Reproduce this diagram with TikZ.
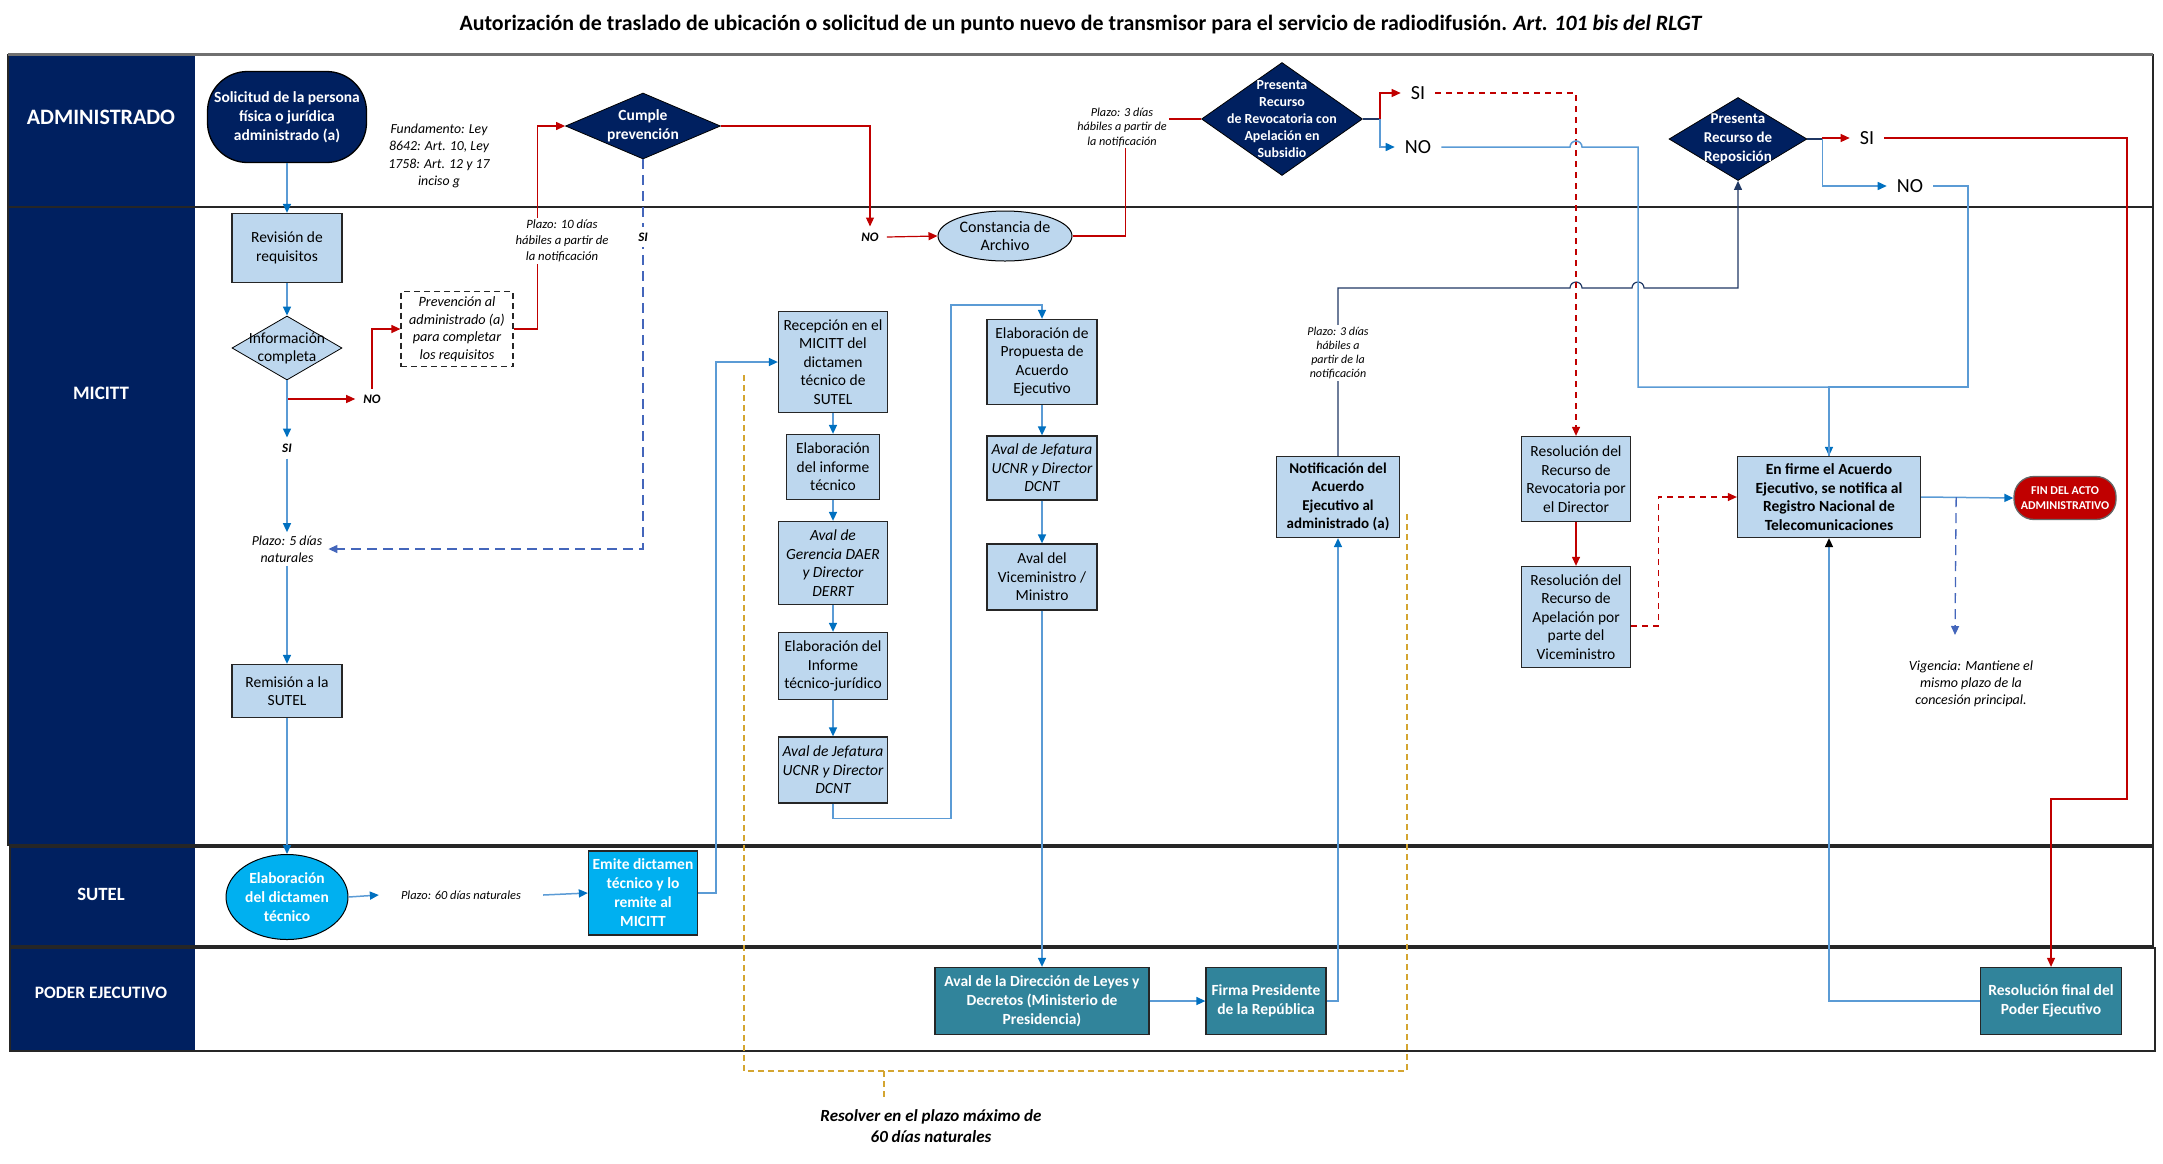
\documentclass[tikz,border=0pt]{standalone}
\usepackage{fontspec}
\setmainfont{Carlito}
\usetikzlibrary{shapes.geometric,arrows.meta,positioning}
\definecolor{navy}{HTML}{002060}
\definecolor{boxblue}{HTML}{BDD7EE}
\definecolor{cyanbox}{HTML}{00B0F0}
\definecolor{tealbox}{HTML}{31849B}
\definecolor{finred}{HTML}{C00000}
\definecolor{flowblue}{HTML}{5B9BD5}
\definecolor{tipblue}{HTML}{0070C0}
\definecolor{flowred}{HTML}{C00000}
\definecolor{navyln}{HTML}{203864}
\definecolor{dashblue}{HTML}{4466BB}
\definecolor{plazogold}{HTML}{D4A531}
\definecolor{framegray}{HTML}{707070}
\newcommand{\fsz}[2]{\fontsize{#1}{#2}\selectfont}

\begin{document}
\begin{tikzpicture}[x=1pt,y=-1pt,
    box/.style={draw=black!85, fill=boxblue, line width=1.3pt, align=center, inner sep=1pt, font=\fsz{15.5}{18.5}},
    darkbox/.style={box, text=white, font=\bfseries\fsz{15.5}{19}},
    dec/.style={diamond, draw=black, fill=navy, inner sep=0pt, line width=0.8pt},
    dectxt/.style={align=center, text=white, font=\bfseries\fsz{15.5}{19}},
    lanelbl/.style={text=white, font=\bfseries\fsz{19}{22}},
    lanebd/.style={black!85, line width=1.5pt},
    note/.style={align=center, fill=white, inner sep=2pt, font=\itshape\fsz{12.7}{16}},
    yesno/.style={inner xsep=10pt, inner ysep=6pt, font=\fsz{20}{22}},
    yesnoit/.style={inner xsep=8pt, inner ysep=6pt, font=\bfseries\itshape\fsz{13}{15}},
    flow/.style={flowblue, line width=1.5pt, -{Triangle[length=9pt,width=8pt,color=tipblue]}},
    flowblack/.style={flowblue, line width=1.5pt, -{Triangle[length=9pt,width=8pt,color=black]}},
    blueline/.style={flowblue, line width=1.5pt},
    redline/.style={flowred, line width=1.2pt},
    redflow/.style={redline, -{Triangle[length=9pt,width=8pt]}},
    reddash/.style={redflow, dash pattern=on 6pt off 5pt},
    navyline/.style={navyln, line width=1.2pt},
    navyflow/.style={navyline, -{Triangle[length=9pt,width=8pt]}},
    dashflow/.style={dashblue, line width=1.3pt, dash pattern=on 10pt off 6pt, -{Triangle[length=9pt,width=8pt]}},
    goldln/.style={plazogold, line width=1.2pt, dash pattern=on 6pt off 4pt}]
    \useasboundingbox (0,0) rectangle (2163,1163);

    % Title
    \node[font=\bfseries\fsz{21.9}{26}] (title) at (1081,25) {Autorización de traslado de ubicación o solicitud de un punto nuevo de transmisor para el servicio de radiodifusión. \textit{Art. 101 bis del RLGT}};

    % Lanes
    \fill[navy] (8,55) rectangle (195,845);
    \draw[lanebd] (8,55) rectangle (2153,845);
    \draw[lanebd] (8,207) -- (2153,207);
    \draw[framegray, line width=3pt] (8,54) -- (2153,54);
    \fill[navy] (10,847) rectangle (195,946);
    \draw[lanebd] (10,847) rectangle (2153,946);
    \fill[navy] (10,948) rectangle (195,1051);
    \draw[lanebd] (10,948) rectangle (2155,1051);
    \node[lanelbl, font=\bfseries\fsz{22}{24}] (lanadm) at (101,117) {ADMINISTRADO};
    \node[lanelbl] (lanmic) at (101,393) {MICITT};
    \node[lanelbl, font=\bfseries\fsz{18.7}{22}] (lansut) at (101,894) {SUTEL};
    \node[lanelbl, font=\bfseries\fsz{17.4}{20}] (lanpe) at (101,993) {PODER EJECUTIVO};

    % Administrado
    \node[box, fill=navy, draw=black, rounded corners=40pt, text=white, font=\bfseries\fsz{15.5}{19}, minimum width=159pt, minimum height=91pt] (solic) at (287,117) {Solicitud de la persona\\física o jurídica\\administrado (a)};
    \node[align=center, font=\itshape\fsz{13.8}{17.5}] (fund) at (439,156) {Fundamento: Ley\\8642: Art. 10, Ley\\1758: Art. 12 y 17\\inciso g};
    \node[dec, minimum width=155pt, minimum height=66pt, label={[dectxt]center:Cumple\\prevención}] (cumple) at (643,126) {};
    \node[dec, minimum width=161pt, minimum height=113pt, label={[dectxt, font=\bfseries\fsz{13.9}{16.8}]center:Presenta\\Recurso\\de Revocatoria con\\Apelación en\\Subsidio}] (revoc) at (1282,119) {};
    \node[yesno] (revSI) at (1418,93) {SI};
    \node[yesno] (revNO) at (1418,147) {NO};
    \node[dec, minimum width=138pt, minimum height=83pt, label={[dectxt, font=\bfseries\fsz{15}{19}]center:Presenta\\Recurso de\\Reposición}] (repos) at (1738,139) {};
    \node[yesno] (repSI) at (1867,138) {SI};
    \node[yesno] (repNO) at (1910,186) {NO};

    % MICITT
    \node[box, minimum width=110pt, minimum height=69pt] (revis) at (287,248) {Revisión de\\requisitos};
    \node[dec, fill=boxblue, minimum width=110pt, minimum height=64pt, label={[align=center, font=\fsz{15.5}{18}]center:Información\\completa}] (infc) at (287,348) {};
    \node[yesnoit] (infNO) at (372,399) {NO};
    \node[yesnoit] (infSI) at (287,448) {SI};
    \node[box, fill=white, dash pattern=on 6pt off 4pt, line width=1.2pt, font=\itshape\fsz{14.2}{17.5}, minimum width=112pt, minimum height=75pt] (prev) at (457,329) {Prevención al\\administrado (a)\\para completar\\los requisitos};
    \node[align=center, inner xsep=6pt, font=\itshape\fsz{13.8}{17}] (plazo5) at (287,549) {Plazo: 5 días\\naturales};
    \node[box, minimum width=110pt, minimum height=53pt] (remis) at (287,691) {Remisión a la\\SUTEL};
    \node[yesnoit] (cumNO) at (870,237) {NO};
    \node[ellipse, draw=black, fill=boxblue, line width=1pt, inner sep=0pt, align=center, font=\fsz{16}{18}, minimum width=134pt, minimum height=50pt] (const) at (1005,236) {Constancia de\\Archivo};
    \node[box, minimum width=109pt, minimum height=101pt] (recep) at (833,362) {Recepción en el\\MICITT del\\dictamen\\técnico de\\SUTEL};
    \node[box, minimum width=93pt, minimum height=65pt] (elabinf) at (833,467) {Elaboración\\del informe\\técnico};
    \node[box, font=\itshape\fsz{15.5}{18.5}, minimum width=109pt, minimum height=83pt] (avalger) at (833,563) {Aval de\\Gerencia DAER\\y Director\\DERRT};
    \node[box, minimum width=109pt, minimum height=67pt] (elabitj) at (833,666) {Elaboración del\\Informe\\técnico-jurídico};
    \node[box, font=\itshape\fsz{15.5}{18.5}, minimum width=109pt, minimum height=66pt] (avaljef) at (833,770) {Aval de Jefatura\\UCNR y Director\\DCNT};
    \node[box, minimum width=110pt, minimum height=85pt] (propu) at (1042,362) {Elaboración de\\Propuesta de\\Acuerdo\\Ejecutivo};
    \node[box, font=\itshape\fsz{15.5}{18.5}, minimum width=110pt, minimum height=64pt] (avaljefb) at (1042,468) {Aval de Jefatura\\UCNR y Director\\DCNT};
    \node[box, minimum width=110pt, minimum height=66pt] (avalvice) at (1042,577) {Aval del\\Viceministro /\\Ministro};
    \node[box, font=\bfseries\fsz{15}{18.5}, minimum width=123pt, minimum height=81pt] (notif) at (1338,497) {Notificación del\\Acuerdo\\Ejecutivo al\\administrado (a)};
    \node[box, minimum width=109pt, minimum height=85pt] (resrev) at (1576,479) {Resolución del\\Recurso de\\Revocatoria por\\el Director};
    \node[box, minimum width=109pt, minimum height=101pt] (resapel) at (1576,617) {Resolución del\\Recurso de\\Apelación por\\parte del\\Viceministro};
    \node[box, font=\bfseries\fsz{15.5}{18.5}, minimum width=183pt, minimum height=81pt] (firme) at (1829,497) {En firme el Acuerdo\\Ejecutivo, se notifica al\\Registro Nacional de\\Telecomunicaciones};
    \node[box, fill=finred, draw=black!60, rounded corners=20pt, text=white, font=\bfseries\fsz{12}{14.5}, minimum width=102pt, minimum height=43pt] (fin) at (2065,498) {FIN DEL ACTO\\ADMINISTRATIVO};
    \node[align=center, font=\itshape\fsz{14}{17}] (vigen) at (1971,684) {Vigencia: Mantiene el\\mismo plazo de la\\concesión principal.};
    \coordinate (vigtip) at (1955,635);

    % SUTEL
    \node[ellipse, draw=black, fill=cyanbox, line width=1pt, inner sep=0pt, align=center, text=white, font=\bfseries\fsz{15.5}{19}, minimum width=122pt, minimum height=85pt] (elabdic) at (287,897) {Elaboración\\del dictamen\\técnico};
    \node[inner xsep=22pt, font=\itshape\fsz{12.4}{14}] (plazo60) at (461,895) {Plazo: 60 días naturales};
    \node[darkbox, fill=cyanbox, minimum width=109pt, minimum height=84pt] (emite) at (643,893) {Emite dictamen\\técnico y lo\\remite al\\MICITT};

    % Poder Ejecutivo
    \node[darkbox, fill=tealbox, minimum width=214pt, minimum height=67pt] (avaldir) at (1042,1001) {Aval de la Dirección de Leyes y\\Decretos (Ministerio de\\Presidencia)};
    \node[darkbox, fill=tealbox, minimum width=120pt, minimum height=67pt] (firma) at (1266,1001) {Firma Presidente\\de la República};
    \node[darkbox, fill=tealbox, minimum width=141pt, minimum height=67pt] (resfin) at (2051,1001) {Resolución final del\\Poder Ejecutivo};

    % Connectors, solicitud to SUTEL
    \draw[flow] (solic) -- (revis);
    \draw[flow] (revis) -- (infc);
    \draw[redflow] (infc.south) |- (infNO.west);
    \draw[flow] (infc.south) -- (infSI.north);
    \draw[flow] (infSI.south) -- (plazo5.north);
    \draw[flow] (plazo5.south) -- (remis.north);
    \draw[redflow] (infNO.north) |- (prev.west);
    \draw[redflow] (prev.east) -- ++(24,0) |- (cumple.west);
    \draw[dashflow] (cumple.south) |- (plazo5.east);
    \draw[redflow] (cumple.east) -| (cumNO.north);
    \draw[redflow] (cumNO.east) -- (const.west);
    \draw[redline] (const.east) -- ++(53,0) |- (revoc.west);
    \draw[flow] (remis) -- (elabdic);
    \draw[flow] (elabdic.east) -- (plazo60.west);
    \draw[flow] (plazo60.east) -- (emite.west);
    \draw[flow] (emite.east) -- ++(18,0) |- (recep.west);

    % Connectors, MICITT chain
    \draw[flow] (recep) -- (elabinf);
    \draw[flow] (elabinf) -- (avalger);
    \draw[flow] (avalger) -- (elabitj);
    \draw[flow] (elabitj) -- (avaljef);
    \draw[flow] (avaljef.south) -- ++(0,15) -| (951,305) -| (propu.north);
    \draw[flow] (propu) -- (avaljefb);
    \draw[flow] (avaljefb) -- (avalvice);
    \draw[flow] (avalvice) -- (avaldir);
    \draw[flow] (avaldir) -- (firma);
    \draw[flow] (firma.east) -| (notif.south);
    \draw[navyflow] (notif.north) |- (1570,288) arc[start angle=180, end angle=0, radius=6pt] -- (1632,288) arc[start angle=180, end angle=0, radius=6pt] -| (repos.south);

    % Connectors, recursos
    \draw[navyline] (revoc.east) -- ++(17,0) coordinate (revsplit);
    \draw[redflow] (revsplit) |- (revSI.west);
    \draw[flow] (revsplit) |- (revNO.west);
    \draw[reddash] (revSI.east) -| (resrev.north);
    \draw[flow] (revNO.east) -- (1570,147) arc[start angle=180, end angle=0, radius=6pt] -| (1638,387) -| (firme.north);
    \draw[navyline] (repos.east) -- ++(15,0) coordinate (repsplit);
    \draw[redflow] (repsplit) |- (repSI.west);
    \draw[flow] (repsplit) |- (repNO.west);
    \draw[blueline] (repNO.east) -| (1968,387) -| (firme.north);
    \draw[redflow] (repSI.east) -| (2127,799) -| (resfin.north);
    \draw[redflow] (resrev) -- (resapel);
    \draw[reddash] ([yshift=-9pt]resapel.east) -- ++(27,0) |- (firme.west);
    \draw[flow] (firme.east) -- (fin.west);
    \draw[dashflow] ([xshift=35pt]firme.east) -- (vigtip);
    \draw[flowblack] (resfin.west) -| (firme.south);

    % Plazo notes over the lines
    \node[note] (plazo10) at (562,241) {Plazo: 10 días\\hábiles a partir de\\la notificación};
    \node[yesnoit, fill=white, inner xsep=2pt] (cumSI) at (643,237) {SI};
    \node[note, font=\itshape\fsz{12.2}{14.5}] (plazo3a) at (1122,127) {Plazo: 3 días\\hábiles a partir de\\la notificación};
    \node[note, font=\itshape\fsz{12}{14}] (plazo3b) at (1338,353) {Plazo: 3 días\\hábiles a\\partir de la\\notificación};

    % Plazo maximo
    \draw[goldln] (744,375) |- (1407,1071) -- (1407,513);
    \draw[goldln] (884,1071) -- (884,1098);
    \node[align=center, font=\bfseries\itshape\fsz{17}{21}] (resolver) at (931,1126) {Resolver en el plazo máximo de\\60 días naturales};
\end{tikzpicture}
\end{document}
